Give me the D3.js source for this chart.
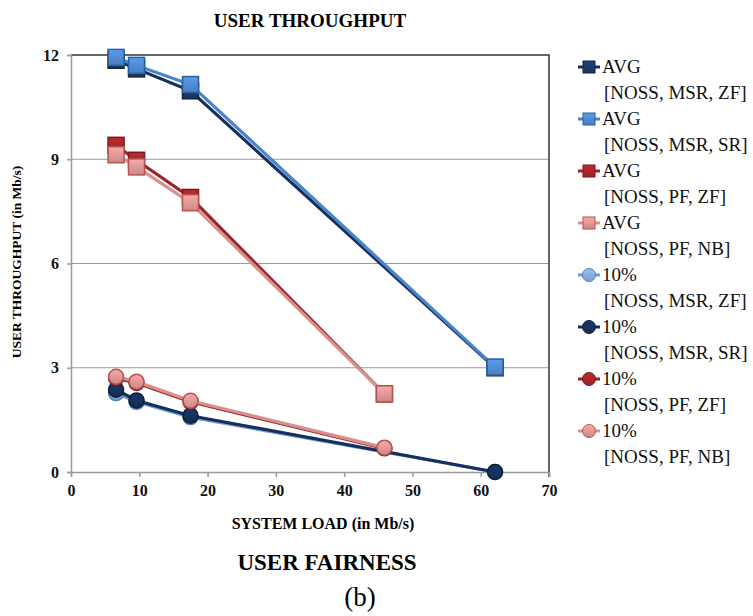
<!DOCTYPE html>
<html>
<head>
<meta charset="utf-8">
<script src="https://cdn.jsdelivr.net/npm/d3@7"></script>
<style>
  body { margin: 0; background: #fff; }
  svg text { font-family: "Liberation Serif", "Times New Roman", "DejaVu Serif", serif; }
</style>
</head>
<body>
<div id="chart"></div>
<script>
// data
const xMSR = [6.6, 9.6, 17.5, 62.1];
const xPF = [6.6, 9.6, 17.5, 45.9];

const avgMsrZf = [11.85, 11.6, 10.97, 3.0];
const avgMsrSr = [11.93, 11.7, 11.15, 3.02];
const avgPfZf = [9.4, 8.97, 7.9, 2.25];
const avgPfNb = [9.13, 8.78, 7.75, 2.25];
const p10MsrZf = [2.27, 2.02, 1.58, 0.0];
const p10MsrSr = [2.37, 2.06, 1.62, 0.0];
const p10PfZf = [2.7, 2.56, 2.02, 0.68];
const p10PfNb = [2.74, 2.6, 2.05, 0.7];

const xTicks = [0, 10, 20, 30, 40, 50, 60, 70];
const yTicks = [0, 3, 6, 9, 12];

const serif = '"Liberation Serif", "Times New Roman", "DejaVu Serif", serif';

const series = [
  { name: 'AVG', sub: '[NOSS, MSR, ZF]', xs: xMSR, ys: avgMsrZf, shape: 'square', fill: '#1b3a66', dark: '#0e2346', line: '#15305a' },
  { name: 'AVG', sub: '[NOSS, MSR, SR]', xs: xMSR, ys: avgMsrSr, shape: 'square', fill: '#4f8ad0', dark: '#2c5f9c', line: '#4a85cc' },
  { name: 'AVG', sub: '[NOSS, PF, ZF]', xs: xPF, ys: avgPfZf, shape: 'square', fill: '#a6252a', dark: '#7d171b', line: '#9e2328' },
  { name: 'AVG', sub: '[NOSS, PF, NB]', xs: xPF, ys: avgPfNb, shape: 'square', fill: '#dc9694', dark: '#b55450', line: '#d98f8d' },
  { name: '10%', sub: '[NOSS, MSR, ZF]', xs: xMSR, ys: p10MsrZf, shape: 'circle', fill: '#84abdc', dark: '#4f7db6', line: '#6f9bd3' },
  { name: '10%', sub: '[NOSS, MSR, SR]', xs: xMSR, ys: p10MsrSr, shape: 'circle', fill: '#17315a', dark: '#0c1f3d', line: '#15305a' },
  { name: '10%', sub: '[NOSS, PF, ZF]', xs: xPF, ys: p10PfZf, shape: 'circle', fill: '#a6252a', dark: '#7d171b', line: '#9e2328' },
  { name: '10%', sub: '[NOSS, PF, NB]', xs: xPF, ys: p10PfNb, shape: 'circle', fill: '#dc9694', dark: '#b55450', line: '#d98f8d' },
];

const W = 753;
const H = 616;
const margin = { top: 55, right: 204, bottom: 144, left: 71 };
const width = W - margin.left - margin.right;
const height = H - margin.top - margin.bottom;

const svg = d3.select('#chart')
  .append('svg')
  .attr('width', W)
  .attr('height', H);

svg.append('rect').attr('width', W).attr('height', H).attr('fill', '#fff');

// gradients for the shaded markers
const defs = svg.append('defs');
series.forEach((s, i) => {
  const g = defs.append('linearGradient')
    .attr('id', `grad${i}`)
    .attr('x1', 0).attr('y1', 0).attr('x2', 0).attr('y2', 1);
  g.append('stop').attr('offset', '0%').attr('stop-color', d3.color(s.fill).brighter(0.35));
  g.append('stop').attr('offset', '100%').attr('stop-color', d3.color(s.fill).darker(0.25));
});

const plot = svg.append('g')
  .attr('transform', `translate(${margin.left},${margin.top})`);

const x = d3.scaleLinear().domain([0, 70]).range([0, width]);
const y = d3.scaleLinear().domain([0, 12]).range([height, 0]);

// gridlines
plot.append('g')
  .selectAll('line')
  .data(yTicks.filter(d => d > 0 && d < 12))
  .enter()
  .append('line')
  .attr('x1', 0)
  .attr('x2', width)
  .attr('y1', d => y(d))
  .attr('y2', d => y(d))
  .attr('stroke', '#9a9a9a')
  .attr('stroke-width', 1.2);

// top and right frame
plot.append('path')
  .attr('d', `M0,${y(12)}H${width}V${height + 5}`)
  .attr('fill', 'none')
  .attr('stroke', '#333')
  .attr('stroke-width', 1.5);

// axes
const xAxis = plot.append('g')
  .attr('transform', `translate(0,${height})`)
  .call(d3.axisBottom(x).tickValues(xTicks).tickSize(5).tickPadding(8));
const yAxis = plot.append('g')
  .call(d3.axisLeft(y).tickValues(yTicks).tickSize(4).tickPadding(8));

[xAxis, yAxis].forEach(a => {
  a.attr('font-family', serif);
  a.select('.domain').attr('stroke', '#9a9a9a').attr('stroke-width', 1.5);
  a.selectAll('.tick line').attr('stroke', '#9a9a9a').attr('stroke-width', 1.5);
  a.selectAll('.tick text')
    .attr('font-weight', 'bold')
    .attr('font-size', 16)
    .attr('fill', '#111');
});

// lines and markers
const line = d3.line().x(d => x(d[0])).y(d => y(d[1]));

series.forEach((s, i) => {
  const pts = s.xs.map((v, j) => [v, s.ys[j]]);
  const g = plot.append('g');
  g.append('path')
    .attr('d', line(pts))
    .attr('fill', 'none')
    .attr('stroke', s.line)
    .attr('stroke-width', 3.2);
  if (s.shape === 'square') {
    g.selectAll('rect')
      .data(pts)
      .enter()
      .append('rect')
      .attr('x', d => x(d[0]) - 8)
      .attr('y', d => y(d[1]) - 8)
      .attr('width', 16)
      .attr('height', 16)
      .attr('fill', `url(#grad${i})`)
      .attr('stroke', s.dark)
      .attr('stroke-width', 1.5);
  } else {
    g.selectAll('circle')
      .data(pts)
      .enter()
      .append('circle')
      .attr('cx', d => x(d[0]))
      .attr('cy', d => y(d[1]))
      .attr('r', 7.5)
      .attr('fill', `url(#grad${i})`)
      .attr('stroke', s.dark)
      .attr('stroke-width', 1.5);
  }
});

// legend
const legend = svg.append('g').attr('transform', 'translate(578,67)');
const item = legend.selectAll('g')
  .data(series)
  .enter()
  .append('g')
  .attr('transform', (d, i) => `translate(0,${i * 52})`);

item.append('line')
  .attr('x1', 0).attr('x2', 22)
  .attr('stroke', d => d.line)
  .attr('stroke-width', 3);
item.each(function (d, i) {
  const g = d3.select(this);
  if (d.shape === 'square') {
    g.append('rect')
      .attr('x', 5).attr('y', -6).attr('width', 12).attr('height', 12)
      .attr('fill', `url(#grad${i})`).attr('stroke', d.dark).attr('stroke-width', 1);
  } else {
    g.append('circle')
      .attr('cx', 11).attr('cy', 0).attr('r', 6.5)
      .attr('fill', `url(#grad${i})`).attr('stroke', d.dark).attr('stroke-width', 1);
  }
});
item.append('text')
  .attr('x', 24).attr('y', 6)
  .attr('font-family', serif)
  .attr('font-size', 19)
  .attr('fill', '#111')
  .text(d => d.name);
item.append('text')
  .attr('x', 26).attr('y', 32)
  .attr('font-family', serif)
  .attr('font-size', 19)
  .attr('fill', '#111')
  .text(d => d.sub);

// titles
svg.append('text')
  .attr('x', 310).attr('y', 27)
  .attr('text-anchor', 'middle')
  .attr('font-family', serif)
  .attr('font-size', 19)
  .attr('font-weight', 'bold')
  .text('USER THROUGHPUT');

svg.append('text')
  .attr('x', 323).attr('y', 529)
  .attr('text-anchor', 'middle')
  .attr('font-family', serif)
  .attr('font-size', 16)
  .attr('font-weight', 'bold')
  .text('SYSTEM LOAD (in Mb/s)');

svg.append('text')
  .attr('transform', 'translate(21,262) rotate(-90)')
  .attr('text-anchor', 'middle')
  .attr('font-family', serif)
  .attr('font-size', 13.5)
  .attr('font-weight', 'bold')
  .text('USER THROUGHPUT (in Mb/s)');

svg.append('text')
  .attr('x', 327).attr('y', 570)
  .attr('text-anchor', 'middle')
  .attr('font-family', serif)
  .attr('font-size', 23)
  .attr('font-weight', 'bold')
  .text('USER FAIRNESS');

svg.append('text')
  .attr('x', 360).attr('y', 606)
  .attr('text-anchor', 'middle')
  .attr('font-family', serif)
  .attr('font-size', 27)
  .text('(b)');
</script>
</body>
</html>
